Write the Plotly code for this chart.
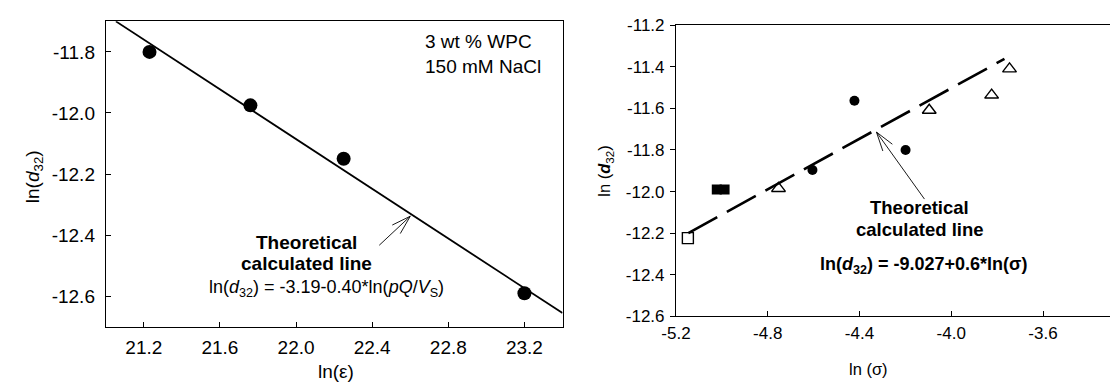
import math
import plotly.graph_objects as go

# ---------------- data: left panel ----------------
left_x = [21.23, 21.76, 22.25, 23.20]
left_y = [-11.80, -11.975, -12.15, -12.59]
left_fit_x = [21.053, 23.40]
left_fit_y = [-11.70, -12.655]
left_xticks = [21.2, 21.6, 22.0, 22.4, 22.8, 23.2]
left_yticks = [-11.8, -12.0, -12.2, -12.4, -12.6]

# ---------------- data: right panel ----------------
circ_x = [-4.605, -4.422, -4.199]
circ_y = [-11.896, -11.563, -11.80]
tri_x = [-4.753, -4.096, -3.824, -3.746]
tri_y = [-11.985, -11.609, -11.536, -11.41]
sq_open_x = [-5.148]
sq_open_y = [-12.224]
sq_fill_x = [-5.022, -4.988]
sq_fill_y = [-11.99, -11.99]
right_fit_x = [-5.146, -3.768]
right_fit_y = [-12.20, -11.362]
right_xticks = [-5.2, -4.8, -4.4, -4.0, -3.6]
right_yticks = [-11.2, -11.4, -11.6, -11.8, -12.0, -12.2, -12.4, -12.6]

W, H = 1110, 392
FONT = "Arial, Liberation Sans, sans-serif"
BLACK = "#000000"

def fmt(v):
    return f"{v:.1f}"

fig = go.Figure()

# left panel traces
fig.add_trace(go.Scatter(x=left_fit_x, y=left_fit_y, mode="lines",
                         line=dict(color=BLACK, width=1.8), xaxis="x", yaxis="y",
                         showlegend=False, hoverinfo="skip"))
fig.add_trace(go.Scatter(x=left_x, y=left_y, mode="markers",
                         marker=dict(symbol="circle", size=14, color=BLACK),
                         xaxis="x", yaxis="y", showlegend=False))

# right panel traces
fig.add_trace(go.Scatter(x=right_fit_x, y=right_fit_y, mode="lines",
                         line=dict(color=BLACK, width=2.6, dash="33px,11px"),
                         xaxis="x2", yaxis="y2", showlegend=False, hoverinfo="skip"))
fig.add_trace(go.Scatter(x=circ_x, y=circ_y, mode="markers",
                         marker=dict(symbol="circle", size=10, color=BLACK),
                         xaxis="x2", yaxis="y2", showlegend=False))
fig.add_trace(go.Scatter(x=tri_x, y=tri_y, mode="markers",
                         marker=dict(symbol="triangle-up-open", size=12, color=BLACK,
                                     line=dict(width=1.4, color=BLACK)),
                         xaxis="x2", yaxis="y2", showlegend=False))
fig.add_trace(go.Scatter(x=sq_open_x, y=sq_open_y, mode="markers",
                         marker=dict(symbol="square-open", size=11, color=BLACK,
                                     line=dict(width=1.4, color=BLACK)),
                         xaxis="x2", yaxis="y2", showlegend=False))
fig.add_trace(go.Scatter(x=sq_fill_x, y=sq_fill_y, mode="markers",
                         marker=dict(symbol="square", size=10, color=BLACK,
                                     line=dict(width=0)),
                         xaxis="x2", yaxis="y2", showlegend=False))

axis_common = dict(showline=True, linecolor=BLACK, linewidth=1, showgrid=False,
                   zeroline=False, tickcolor=BLACK, tickwidth=1, ticklen=5)

fig.update_layout(
    width=W, height=H, autosize=False,
    margin=dict(l=0, r=0, t=0, b=0),
    paper_bgcolor="white", plot_bgcolor="white",
    font=dict(family=FONT, color=BLACK),
    xaxis=dict(domain=[92 / W, 555 / W], range=[21.0, 23.4], anchor="y",
               mirror=True, ticks="inside", tickvals=left_xticks,
               ticktext=[fmt(v) for v in left_xticks], tickfont=dict(size=19),
               ticklabelstandoff=3, **axis_common),
    yaxis=dict(domain=[(H - 334) / H, (H - 13) / H], range=[-12.7, -11.7], anchor="x",
               mirror=True, ticks="inside", tickvals=left_yticks,
               ticktext=[fmt(v) for v in left_yticks], tickfont=dict(size=19),
               ticklabelstandoff=6, **axis_common),
    xaxis2=dict(domain=[670 / W, 1.0], range=[-5.2, -3.308], anchor="y2",
                mirror=True, ticks="inside", tickvals=right_xticks,
                ticktext=[fmt(v) for v in right_xticks], tickfont=dict(size=17),
                ticklabelstandoff=1, **axis_common),
    yaxis2=dict(domain=[(H - 323) / H, (H - 17) / H], range=[-12.6, -11.2], anchor="x2",
                mirror=False, ticks="outside", tickvals=right_yticks,
                ticktext=[fmt(v) for v in right_yticks], tickfont=dict(size=17),
                ticklabelstandoff=2, **axis_common),
)

ann = []
def text(x_px, y_px, s, size, bold=False, xanchor="center", align="center"):
    if bold:
        s = f"<b>{s}</b>"
    ann.append(dict(xref="paper", yref="paper", x=x_px / W, y=(H - y_px) / H,
                    text=s, showarrow=False, xanchor=xanchor, yanchor="middle",
                    align=align, font=dict(size=size, family=FONT, color=BLACK)))

# axis titles
text(325, 381, "ln(ε)", 19)
text(865, 378, "ln (σ)", 16.5)
ann.append(dict(xref="paper", yref="paper", x=20 / W, y=(H - 176) / H,
                text="ln(<i>d</i><sub>32</sub>)", showarrow=False, textangle=-90,
                xanchor="center", yanchor="middle",
                font=dict(size=19, family=FONT, color=BLACK)))
ann.append(dict(xref="paper", yref="paper", x=598 / W, y=(H - 170) / H,
                text="ln (<i><b>d</b></i><sub>32</sub>)", showarrow=False, textangle=-90,
                xanchor="center", yanchor="middle",
                font=dict(size=16.5, family=FONT, color=BLACK)))

# panel texts
text(414, 47, "3 wt % WPC<br>150 mM NaCl", 19, xanchor="left", align="left")
text(295, 245, "Theoretical", 19, bold=True)
text(295, 267, "calculated line", 19, bold=True)
text(316, 294, "ln(<i>d</i><sub>32</sub>) = -3.19-0.40*ln(<i>pQ</i>/<i>V</i><sub>S</sub>)", 18)
text(917, 209, "Theoretical", 18.5, bold=True)
text(917, 232, "calculated line", 18.5, bold=True)
text(921, 270, "ln(<i>d</i><sub>32</sub>) = -9.027+0.6*ln(σ)", 18, bold=True)

fig.update_layout(annotations=ann)

# arrows: tip in data coords, segments in pixels (open V heads)
shapes = []
def arrow(xref, yref, tx, ty, ax, ay, head_len=20, head_ang=17):
    segs = [(ax, ay)]
    base = math.atan2(ay, ax)
    for s in (-1, 1):
        a = base + s * math.radians(head_ang)
        segs.append((head_len * math.cos(a), head_len * math.sin(a)))
    for dx, dy in segs:
        shapes.append(dict(type="line", xref=xref, yref=yref,
                           xsizemode="pixel", ysizemode="pixel",
                           xanchor=tx, yanchor=ty, x0=0, y0=0, x1=dx, y1=-dy,
                           line=dict(color=BLACK, width=0.9)))

arrow("x", "y", 22.60, -12.338, -31, 29)
arrow("x2", "y2", -4.326, -11.714, 48, 67)
fig.update_layout(shapes=shapes)

fig.write_html("out.html", config={"displayModeBar": False},
               post_script="document.body.style.margin='0';document.body.style.overflow='hidden';")
